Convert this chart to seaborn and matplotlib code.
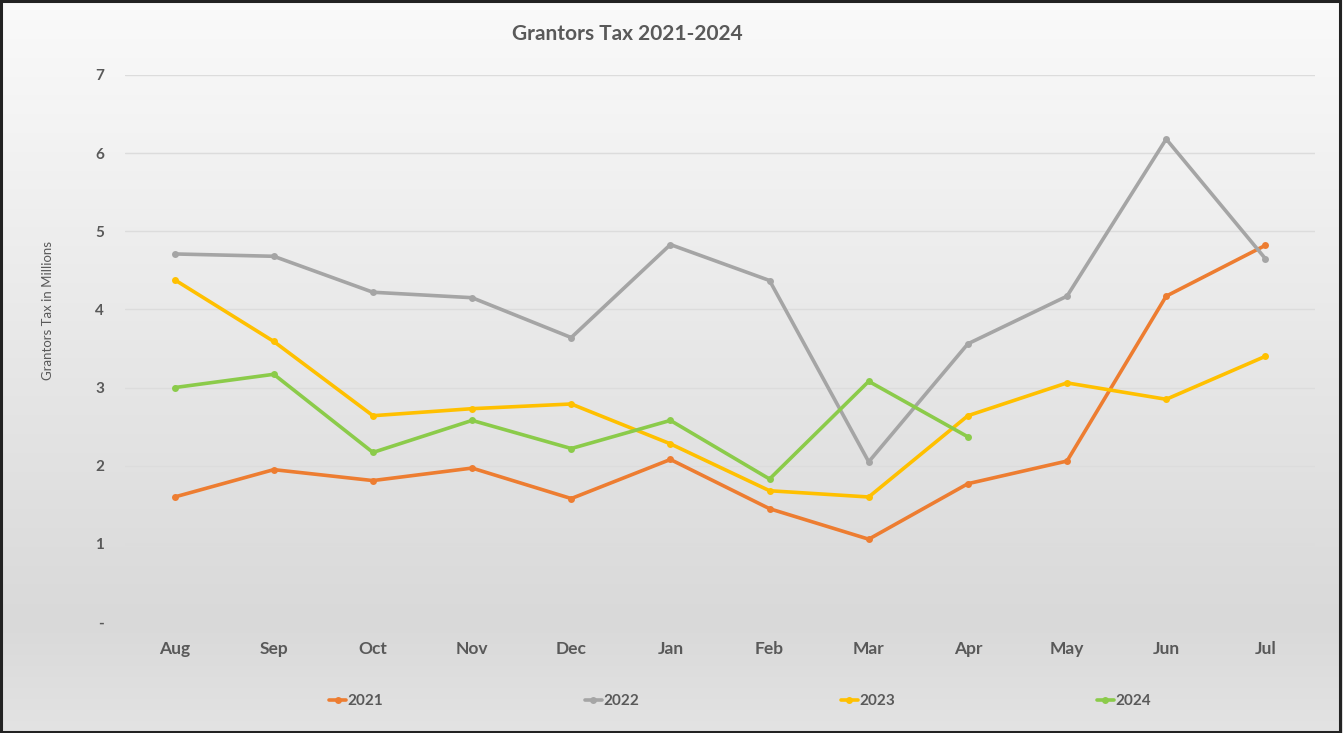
import numpy as np
import pandas as pd
import matplotlib
matplotlib.use("Agg")
import matplotlib.pyplot as plt
import seaborn as sns
from matplotlib.colors import LinearSegmentedColormap

months = ["Aug", "Sep", "Oct", "Nov", "Dec", "Jan", "Feb", "Mar", "Apr", "May", "Jun", "Jul"]
tax_2021 = [1.60, 1.95, 1.81, 1.97, 1.58, 2.08, 1.45, 1.06, 1.77, 2.06, 4.17, 4.82]
tax_2022 = [4.71, 4.68, 4.22, 4.15, 3.64, 4.83, 4.37, 2.05, 3.56, 4.17, 6.18, 4.65]
tax_2023 = [4.38, 3.59, 2.64, 2.73, 2.79, 2.28, 1.68, 1.60, 2.64, 3.06, 2.85, 3.40]
tax_2024 = [3.00, 3.17, 2.17, 2.58, 2.22, 2.58, 1.83, 3.08, 2.37, None, None, None]
years = ["2021", "2022", "2023", "2024"]
colors = ["#ED7D31", "#A5A5A5", "#FFC000", "#8BCB4A"]
y_ticks = [0, 1, 2, 3, 4, 5, 6, 7]
y_ticklabels = ["-", "1", "2", "3", "4", "5", "6", "7"]

rows = []
for yr, vals in zip(years, [tax_2021, tax_2022, tax_2023, tax_2024]):
    for m, v in zip(months, vals):
        if v is not None:
            rows.append({"Month": m, "Year": yr, "Tax": v})
df = pd.DataFrame(rows)

sns.set_theme(style="white")
plt.rcParams["font.family"] = ["Lato", "DejaVu Sans"]
txt = "#595959"

fig = plt.figure(figsize=(13.43, 7.33), dpi=100)

# gradient background
bg = fig.add_axes([0, 0, 1, 1], zorder=-10)
cmap = LinearSegmentedColormap.from_list(
    "bg", [(0.0, "#fafafa"), (0.85, "#d9d9d9"), (1.0, "#e3e3e3")])
grad = np.linspace(0, 1, 256).reshape(-1, 1)
bg.imshow(grad, aspect="auto", cmap=cmap, extent=[0, 1, 0, 1], origin="upper")
bg.set_xlim(0, 1)
bg.set_ylim(0, 1)
bg.axis("off")
# border
bg.add_patch(plt.Rectangle((0.001, 0.001), 0.997, 0.997, fill=False,
                           edgecolor="#222222", linewidth=2.2,
                           transform=bg.transAxes))

ax = fig.add_axes([0.0931, 0.1514, 0.8860, 0.7463])
ax.patch.set_alpha(0)

sns.lineplot(data=df, x="Month", y="Tax", hue="Year", palette=colors,
             hue_order=years, marker="o", markersize=5, markeredgewidth=0,
             linewidth=2.6, sort=False, ax=ax, legend=True)

ax.set_xlim(-0.5, len(months) - 0.5)
ax.set_ylim(0, 7)
ax.set_yticks(y_ticks)
ax.set_yticklabels(y_ticklabels)
ax.yaxis.grid(True, color="#dcdcdc", linewidth=1)
ax.set_axisbelow(True)
for s in ax.spines.values():
    s.set_visible(False)
ax.tick_params(axis="both", length=0)
ax.tick_params(axis="x", pad=14, labelsize=12.5, labelcolor=txt)
ax.tick_params(axis="y", pad=15, labelsize=11, labelcolor=txt)
for lab in ax.get_xticklabels() + ax.get_yticklabels():
    lab.set_fontweight("bold")
ax.set_xlabel("")
ax.set_ylabel("Grantors Tax in Millions", fontsize=9.5, color=txt)
ax.yaxis.set_label_coords(-0.0597, 0.569)

handles, labels = ax.get_legend_handles_labels()
ax.get_legend().remove()
leg = fig.legend(handles, labels, loc="center", bbox_to_anchor=(0.551, 0.043),
                 ncol=4, frameon=False, columnspacing=13.2, handlelength=1.1,
                 handletextpad=0.1, prop={"weight": "bold", "size": 11})
for t in leg.get_texts():
    t.set_color(txt)

fig.text(0.467, 0.953, "Grantors Tax 2021-2024", ha="center", va="center",
         fontsize=15, fontweight="bold", color=txt)

fig.savefig("out.png", dpi=100)
